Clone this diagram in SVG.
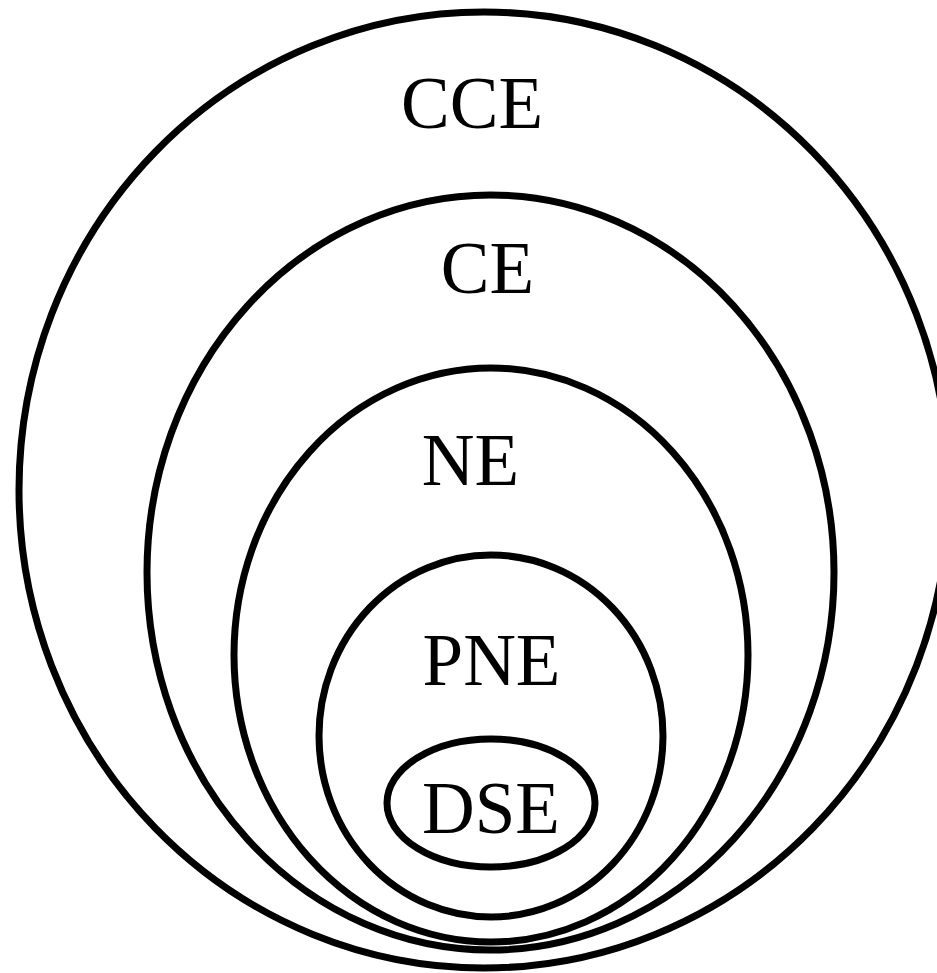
<svg xmlns="http://www.w3.org/2000/svg" width="937" height="973" viewBox="0 0 937 973">
<style>
.ring{fill:none;stroke:#000;stroke-width:7}
.lbl{font-family:"Liberation Serif","Times New Roman",serif;font-size:73px;fill:#000;text-anchor:middle}
</style>
<rect width="937" height="973" fill="#fff"/>
<g id="CCE"><ellipse class="ring" cx="484" cy="490" rx="465" ry="478"/><text class="lbl" x="472" y="128">CCE</text></g>
<g id="CE"><ellipse class="ring" cx="490.5" cy="572.5" rx="343.5" ry="377.5"/><text class="lbl" x="487.5" y="293">CE</text></g>
<g id="NE"><ellipse class="ring" cx="491" cy="655" rx="257" ry="287"/><text class="lbl" x="470.5" y="485">NE</text></g>
<g id="PNE"><ellipse class="ring" cx="491" cy="736" rx="172" ry="181"/><text class="lbl" x="491.5" y="685">PNE</text></g>
<g id="DSE"><ellipse class="ring" cx="491" cy="803" rx="104" ry="64"/><text class="lbl" x="491" y="833">DSE</text></g>
<g id="connectors"/>
</svg>
